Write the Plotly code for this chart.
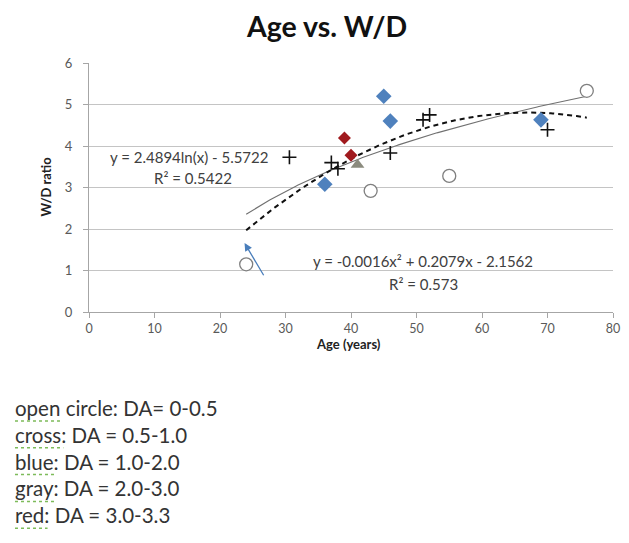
import numpy as np
import plotly.graph_objects as go

# Age (years) and W/D ratio, grouped by DA class
circle_age = [24, 43, 55, 76]
circle_wd = [1.15, 2.92, 3.28, 5.33]

cross_age = [30.6, 37, 38, 46, 51, 52, 70]
cross_wd = [3.73, 3.6, 3.45, 3.83, 4.63, 4.75, 4.39]

blue_age = [36, 45, 46, 69]
blue_wd = [3.08, 5.2, 4.6, 4.63]

gray_age = [41]
gray_wd = [3.55]

red_age = [39, 40]
red_wd = [4.19, 3.78]

legend_lines = [
    "open circle: DA= 0-0.5",
    "cross: DA = 0.5-1.0",
    "blue: DA = 1.0-2.0",
    "gray: DA = 2.0-3.0",
    "red: DA = 3.0-3.3",
]

log_eq = ["y = 2.4894ln(x) - 5.5722", "R² = 0.5422"]
poly_eq = ["y = -0.0016x² + 0.2079x - 2.1562", "R² = 0.573"]

FONT = "Lato, Carlito, Calibri, sans-serif"

# plot-area geometry in pixels (used to place paper-referenced text)
L, R, T, B = 89, 620, 63, 312
def px(x):
    return (x - L) / (R - L)
def py(y):
    return (B - y) / (B - T)

all_age = np.array(circle_age + cross_age + blue_age + gray_age + red_age, float)
all_wd = np.array(circle_wd + cross_wd + blue_wd + gray_wd + red_wd, float)

# Trendlines fitted over all points
b_log, a_log = np.polyfit(np.log(all_age), all_wd, 1)
p2 = np.polyfit(all_age, all_wd, 2)
xs = np.linspace(all_age.min(), all_age.max(), 200)

fig = go.Figure()
fig.add_trace(go.Scatter(x=xs, y=b_log * np.log(xs) + a_log, mode="lines",
                         line=dict(color="#707070", width=1.1), hoverinfo="skip"))
fig.add_trace(go.Scatter(x=xs, y=np.polyval(p2, xs), mode="lines",
                         line=dict(color="#111111", width=2, dash="5px,4px"), hoverinfo="skip"))

fig.add_trace(go.Scatter(x=circle_age, y=circle_wd, mode="markers",
                         marker=dict(symbol="circle", size=13, color="white",
                                     line=dict(color="#7f7f7f", width=1.3))))
fig.add_trace(go.Scatter(x=cross_age, y=cross_wd, mode="markers",
                         marker=dict(symbol="cross-thin", size=10,
                                     line=dict(color="#111111", width=1.6))))
fig.add_trace(go.Scatter(x=blue_age, y=blue_wd, mode="markers",
                         marker=dict(symbol="diamond", size=12, color="#4f81bd",
                                     line=dict(color="#4f81bd", width=0))))
fig.add_trace(go.Scatter(x=gray_age, y=gray_wd, mode="markers",
                         marker=dict(symbol="triangle-up", size=12, color="#8b8b7e")))
fig.add_trace(go.Scatter(x=red_age, y=red_wd, mode="markers",
                         marker=dict(symbol="diamond", size=10, color="#a01a1e")))

ann = []
# Equation labels
ann.append(dict(x=15.2, y=3.73, text=log_eq[0]))
ann.append(dict(x=15.9, y=3.24, text=log_eq[1]))
ann.append(dict(x=51.0, y=1.22, text=poly_eq[0]))
ann.append(dict(x=51.1, y=0.68, text=poly_eq[1]))
for a in ann:
    a.update(xref="x", yref="y", showarrow=False, xanchor="center", yanchor="middle",
             font=dict(family=FONT, size=15, color="#404040"))

# Arrow pointing at the start of the dashed curve
ann.append(dict(x=23.75, y=1.66, ax=26.8, ay=0.85, xref="x", yref="y", axref="x", ayref="y",
                text="", showarrow=True, arrowhead=2, arrowsize=1.2, arrowwidth=1.3,
                arrowcolor="#4a7ebb"))

# Axis titles and chart title
ann.append(dict(x=px(330), y=py(26), xref="paper", yref="paper", text="<b>Age vs. W/D</b>",
                showarrow=False, xanchor="center", yanchor="middle",
                font=dict(family=FONT, size=28.5, color="#111111")))
ann.append(dict(x=px(352), y=py(344), xref="paper", yref="paper", text="<b>Age (years)</b>",
                showarrow=False, xanchor="center", yanchor="middle",
                font=dict(family=FONT, size=13, color="#222222")))
ann.append(dict(x=px(45), y=py(187), xref="paper", yref="paper", text="<b>W/D ratio</b>",
                showarrow=False, textangle=-90, xanchor="center", yanchor="middle",
                font=dict(family=FONT, size=13, color="#222222")))

# Key text below the chart, with the spell-check squiggle under the first word
word_ends = [60, 63, 55, 55, 47]
shapes = []
for i, line in enumerate(legend_lines):
    yc = 408 + 26.8 * i
    ann.append(dict(x=px(12), y=py(yc), xref="paper", yref="paper",
                    text=line, showarrow=False, xanchor="left", yanchor="middle",
                    font=dict(family=FONT, size=20.5, color="#333333")))
    shapes.append(dict(type="line", xref="paper", yref="paper",
                       x0=px(14), x1=px(word_ends[i]), y0=py(yc + 13), y1=py(yc + 13),
                       line=dict(color="#7dbb5a", width=1.5, dash="dot")))

fig.update_layout(
    width=629, height=543,
    margin=dict(l=L, r=629 - R, t=T, b=543 - B),
    paper_bgcolor="white", plot_bgcolor="white",
    showlegend=False,
    annotations=ann,
    shapes=shapes,
    font=dict(family=FONT),
)
fig.update_xaxes(range=[0, 80], dtick=10, showgrid=False, zeroline=False,
                 showline=True, linecolor="#a6a6a6", linewidth=1,
                 ticks="outside", ticklen=5, tickcolor="#a6a6a6",
                 tickfont=dict(family=FONT, size=12.5, color="#595959"))
fig.update_yaxes(range=[0, 6], dtick=1, showgrid=True, gridcolor="#c4c4c4", gridwidth=1,
                 zeroline=False, showline=True, linecolor="#a6a6a6", linewidth=1,
                 ticks="outside", ticklen=5, tickcolor="#a6a6a6", ticklabelstandoff=8,
                 tickfont=dict(family=FONT, size=13, color="#595959"))

fig.write_html("out.html")
